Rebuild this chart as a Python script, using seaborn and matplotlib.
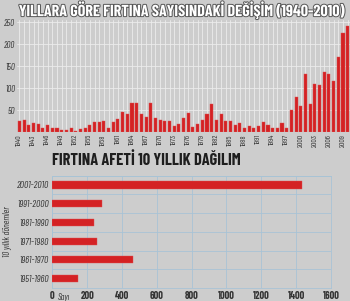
import matplotlib
matplotlib.use("Agg")
import matplotlib.pyplot as plt
import matplotlib.patheffects as pe
import seaborn as sns
import pandas as pd
import numpy as np

years = list(range(1940, 2011))
storms = [25, 27, 15, 20, 18, 8, 15, 10, 9, 5,
          5, 8, 3, 6, 9, 16, 22, 22, 24, 8,
          22, 29, 45, 41, 65, 65, 40, 33, 67, 32,
          28, 24, 24, 13, 18, 32, 43, 12, 18, 28,
          40, 64, 27, 40, 24, 24, 17, 20, 8, 14,
          10, 14, 22, 17, 10, 10, 20, 9, 50, 80,
          59, 133, 64, 109, 108, 136, 133, 116, 171, 224,
          241]
decades = ["2001-2010", "1991-2000", "1981-1990", "1971-1980", "1961-1970", "1951-1960"]
decade_counts = [1434, 285, 241, 258, 462, 150]
xticks_bottom = [0, 200, 400, 600, 800, 1000, 1200, 1400, 1600]
yticks_top = [50, 100, 150, 200, 250]

sns.set_theme(style="white")
FONT = ["Barlow Condensed", "DejaVu Sans"]
plt.rcParams["font.family"] = FONT

BG = "#cdcdcd"
RED = "#d42224"
TXT = "#333333"
fig = plt.figure(figsize=(3.5, 3.01), dpi=100, facecolor=BG)

# ---------- top chart ----------
ax1 = fig.add_axes([0.049, 0.5615, 0.951, 0.3725], facecolor=BG)
df1 = pd.DataFrame({"year": [str(y) for y in years], "count": storms})
sns.barplot(data=df1, x="year", y="count", color=RED, width=0.66,
            edgecolor="#e05050", linewidth=0.3, saturation=1, ax=ax1, zorder=3)
ax1.set_xlim(-0.5, len(years) - 0.5)
ax1.set_ylim(0, 255)
ax1.set_xlabel("")
ax1.set_ylabel("")
ax1.set_xticks(np.arange(len(years)), minor=True)
ax1.set_xticks(np.arange(0, len(years), 3))
ax1.set_xticklabels([str(years[i]) for i in range(0, len(years), 3)],
                    rotation=90, fontsize=5.5, color=TXT)
ax1.set_yticks(yticks_top)
ax1.set_yticklabels([str(v) for v in yticks_top], fontsize=6.5, style="italic",
                    color=TXT)
ax1.tick_params(axis="both", length=0, pad=1.5)
ax1.tick_params(axis="x", which="minor", length=0)
ax1.grid(axis="x", which="both", color="#ececec", linewidth=0.6, zorder=0)
ax1.grid(axis="y", which="major", color="#ececec", linewidth=0.6, zorder=0)
ax1.set_axisbelow(True)
for s in ax1.spines.values():
    s.set_visible(False)

fig.text(0.521, 0.968, "YILLARA GÖRE FIRTINA SAYISINDAKİ DEĞİŞİM (1940-2010)",
         ha="center", va="center", fontsize=11.6, fontweight="bold", color="white",
         path_effects=[pe.withStroke(linewidth=1.4, foreground="#555555")])

# ---------- bottom chart ----------
ax2 = fig.add_axes([0.1494, 0.0432, 0.7963, 0.3734], facecolor=BG)
df2 = pd.DataFrame({"decade": decades, "count": decade_counts})
sns.barplot(data=df2, y="decade", x="count", orient="h", color=RED, width=0.38,
            saturation=1, edgecolor="#e05050", linewidth=0.3, ax=ax2, zorder=3)
ax2.set_xlim(0, 1600)
ax2.set_ylim(len(decades) - 0.5, -0.5)
ax2.set_xticks(xticks_bottom)
ax2.set_xticklabels([str(v) for v in xticks_bottom], fontsize=7.5, fontweight="bold",
                    color=TXT)
ax2.set_yticks(range(len(decades)))
ax2.set_yticklabels(decades, fontsize=7, style="italic", color=TXT)
ax2.set_yticks(np.arange(-0.5, len(decades), 1), minor=True)
ax2.tick_params(axis="both", which="both", length=0, pad=2.5)
ax2.grid(axis="x", which="major", color="#a8c3d6", linewidth=0.6, zorder=0)
ax2.grid(axis="y", which="minor", color="#a8c3d6", linewidth=0.6, zorder=0)
ax2.grid(axis="y", which="major", visible=False)
ax2.set_axisbelow(True)
for s in ax2.spines.values():
    s.set_color("#a8c3d6")
    s.set_linewidth(0.6)
ax2.set_xlabel("")
ax2.set_ylabel("10 yıllık dönemler", fontsize=6.5, style="italic", color=TXT,
               labelpad=3)
ax2.text(30, -0.085, "Sayı", transform=ax2.get_xaxis_transform(), fontsize=6.5,
         style="italic", color=TXT, ha="left", va="center")

fig.text(0.149, 0.468, "FIRTINA AFETİ 10 YILLIK DAĞILIM", ha="left", va="center",
         fontsize=11.8, fontweight="bold", color="#1e1e1e")

fig.savefig("out.png", dpi=100, facecolor=BG)
